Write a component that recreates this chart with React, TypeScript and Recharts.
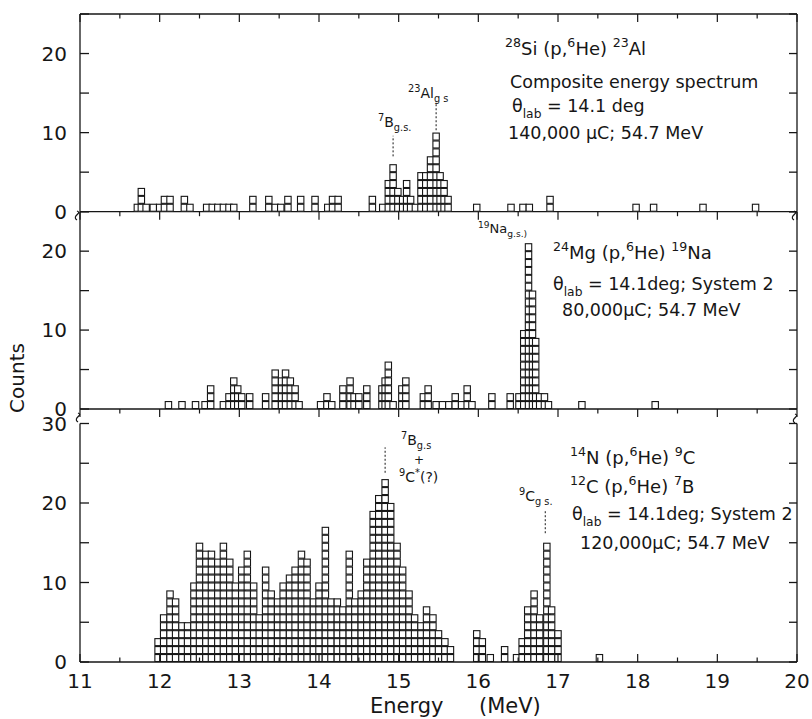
import { ReferenceLine, Scatter, ScatterChart, XAxis, YAxis } from 'recharts'

const INK = '#161616'
const FONT = '"DejaVu Sans", Verdana, sans-serif'

// one square = one count; energies (MeV)
const siEnergy = [
  11.72, 11.77, 11.83, 11.92, 12.0, 12.06, 12.13, 12.31, 12.38, 12.59, 12.66, 12.73, 12.8,
  12.87, 12.93, 13.17, 13.37, 13.45, 13.52, 13.61, 13.77, 13.95, 14.11, 14.17, 14.24, 14.67,
  14.8, 14.87, 14.93, 14.99, 15.05, 15.1, 15.15, 15.21, 15.28, 15.34, 15.4, 15.47, 15.52,
  15.57, 15.62, 15.98, 16.41, 16.56, 16.64, 16.9, 17.98, 18.2, 18.82, 19.48,
]
const siCounts = [
  1, 3, 1, 1, 1, 2, 2, 2, 1, 1, 1, 1, 1, 1, 1, 2, 2, 1, 1, 2, 2, 2, 1, 2, 2, 2, 1, 4, 6, 3, 2,
  4, 2, 1, 5, 5, 7, 10, 5, 4, 2, 1, 1, 1, 1, 2, 1, 1, 1, 1,
]

const mgEnergy = [
  12.11, 12.28, 12.45, 12.57, 12.64, 12.8, 12.87, 12.93, 12.98, 13.03, 13.13, 13.33, 13.45,
  13.53, 13.58, 13.64, 13.7, 13.75, 14.02, 14.1, 14.16, 14.3, 14.39, 14.44, 14.5, 14.6, 14.79,
  14.83, 14.87, 14.93, 15.04, 15.09, 15.31, 15.37, 15.47, 15.55, 15.63, 15.71, 15.79, 15.86,
  15.92, 16.17, 16.4, 16.51, 16.57, 16.63, 16.68, 16.72, 16.77, 16.83, 16.88, 17.3, 18.22,
]
const mgCounts = [
  1, 1, 1, 1, 3, 1, 2, 4, 3, 2, 2, 2, 5, 4, 5, 4, 3, 1, 1, 2, 1, 3, 4, 2, 2, 3, 3, 4, 6, 1, 3,
  4, 2, 3, 1, 1, 1, 2, 1, 3, 1, 2, 2, 2, 10, 21, 15, 9, 2, 2, 1, 1, 1,
]

const cnEnergy = [
  11.98, 12.05, 12.13, 12.2, 12.28, 12.35, 12.43, 12.5, 12.58, 12.65, 12.73, 12.8, 12.88,
  12.95, 13.03, 13.1, 13.18, 13.25, 13.33, 13.4, 13.48, 13.55, 13.63, 13.7, 13.78, 13.85,
  13.93, 14.0, 14.08, 14.15, 14.23, 14.3, 14.38, 14.45, 14.53, 14.6, 14.68, 14.75, 14.83,
  14.9, 14.98, 15.05, 15.13, 15.2, 15.28, 15.35, 15.43, 15.5, 15.58, 15.65, 15.98, 16.05,
  16.15, 16.33, 16.48, 16.55, 16.62, 16.7, 16.77, 16.86, 16.92, 17.0, 17.52,
]
const cnCounts = [
  3, 6, 9, 8, 5, 5, 10, 15, 14, 14, 13, 15, 13, 10, 12, 14, 10, 6, 12, 9, 8, 10, 11, 12, 14,
  13, 8, 10, 17, 8, 8, 7, 14, 8, 9, 13, 19, 21, 23, 20, 15, 12, 9, 6, 5, 7, 6, 4, 3, 2, 4, 3,
  1, 2, 1, 3, 7, 9, 6, 15, 7, 4, 1,
]

const energyTicks = [
  11, 11.5, 12, 12.5, 13, 13.5, 14, 14.5, 15, 15.5, 16, 16.5, 17, 17.5, 18, 18.5, 19, 19.5, 20,
]
const countTicks25 = [0, 5, 10, 15, 20, 25]
const countTicks30 = [0, 5, 10, 15, 20, 25, 30]

type Seg = [string, 'n' | 'sup' | 'sub']
type Note = { x: number; y: number; size: number; segs: Seg[] }
type Marker = { e: number; from: number; to: number }

const siMarkers: Marker[] = [
  { e: 14.93, from: 7, to: 9.6 },
  { e: 15.47, from: 10.3, to: 14 },
]
const cnMarkers: Marker[] = [
  { e: 14.83, from: 23.8, to: 27 },
  { e: 16.84, from: 16.2, to: 19 },
]

const notes: Note[] = [
  { x: 505, y: 55, size: 18, segs: [['28', 'sup'], ['Si (p,', 'n'], ['6', 'sup'], ['He) ', 'n'], ['23', 'sup'], ['Al', 'n']] },
  { x: 510, y: 88, size: 17.5, segs: [['Composite energy spectrum', 'n']] },
  { x: 512, y: 112, size: 17.5, segs: [['θ', 'n'], ['lab', 'sub'], [' = 14.1 deg', 'n']] },
  { x: 508, y: 139, size: 17.5, segs: [['140,000 μC; 54.7 MeV', 'n']] },
  { x: 378, y: 127, size: 14, segs: [['7', 'sup'], ['B', 'n'], ['g.s.', 'sub']] },
  { x: 408, y: 98, size: 14, segs: [['23', 'sup'], ['Al', 'n'], ['g s', 'sub']] },

  { x: 553, y: 259, size: 18, segs: [['24', 'sup'], ['Mg (p,', 'n'], ['6', 'sup'], ['He) ', 'n'], ['19', 'sup'], ['Na', 'n']] },
  { x: 553, y: 290, size: 17.5, segs: [['θ', 'n'], ['lab', 'sub'], [' = 14.1deg; System 2', 'n']] },
  { x: 562, y: 316, size: 17.5, segs: [['80,000μC; 54.7 MeV', 'n']] },
  { x: 478, y: 233, size: 13, segs: [['19', 'sup'], ['Na', 'n'], ['g.s.)', 'sub']] },

  { x: 570, y: 464, size: 18, segs: [['14', 'sup'], ['N (p,', 'n'], ['6', 'sup'], ['He) ', 'n'], ['9', 'sup'], ['C', 'n']] },
  { x: 570, y: 493, size: 18, segs: [['12', 'sup'], ['C (p,', 'n'], ['6', 'sup'], ['He) ', 'n'], ['7', 'sup'], ['B', 'n']] },
  { x: 572, y: 520, size: 17.5, segs: [['θ', 'n'], ['lab', 'sub'], [' = 14.1deg; System 2', 'n']] },
  { x: 580, y: 549, size: 17.5, segs: [['120,000μC; 54.7 MeV', 'n']] },
  { x: 401, y: 445, size: 14, segs: [['7', 'sup'], ['B', 'n'], ['g.s', 'sub']] },
  { x: 414, y: 464, size: 12, segs: [['+', 'n']] },
  { x: 399, y: 482, size: 14, segs: [['9', 'sup'], ['C', 'n'], ['*', 'sup'], ['(?)', 'n']] },
  { x: 519, y: 501, size: 14, segs: [['9', 'sup'], ['C', 'n'], ['g s.', 'sub']] },
]

// axis break marks where the panels meet
const breakMarks = [
  [80, 216],
  [797, 216],
  [81, 418],
  [798, 419],
]

function toSquares(energy: number[], counts: number[]) {
  const squares: { e: number; n: number }[] = []
  energy.forEach((e, i) => {
    for (let k = 0; k < counts[i]; k++) squares.push({ e, n: k + 0.5 })
  })
  return squares
}

function CountSquare(props: any) {
  const { cx, cy } = props
  if (cx == null || cy == null) return <g />
  return (
    <rect
      x={cx - 3.2}
      y={cy - 3.5}
      width={6.4}
      height={7}
      fill="#ffffff"
      stroke={INK}
      strokeWidth={1.1}
    />
  )
}

// tick line (long on whole MeV, short on half) plus optional label
function energyTick(dir: number, labels: boolean) {
  return function EnergyTick(props: any) {
    const { x, y, payload } = props
    const major = Number.isInteger(payload.value)
    return (
      <g>
        <line
          x1={x}
          x2={x}
          y1={y}
          y2={y + dir * (major ? 8 : 4.5)}
          stroke={INK}
          strokeWidth={1.2}
        />
        {labels && major ? (
          <text x={x} y={y + 26} textAnchor="middle" fontSize={20} fontFamily={FONT} fill={INK}>
            {payload.value}
          </text>
        ) : null}
      </g>
    )
  }
}

function RichText({ x, y, size, segs }: Note) {
  let shift = 0
  return (
    <text x={x} y={y} fontSize={size} fontFamily={FONT} fill={INK}>
      {segs.map(([t, kind], i) => {
        const target = kind === 'sup' ? -0.42 * size : kind === 'sub' ? 0.32 * size : 0
        const dy = target - shift
        shift = target
        return (
          <tspan key={i} dy={dy} fontSize={kind === 'n' ? size : size * 0.7}>
            {t}
          </tspan>
        )
      })}
    </text>
  )
}

function SpectrumPanel({
  top,
  height,
  plotTop,
  plotBottom,
  maxCount,
  yTicks,
  energy,
  counts,
  markers = [],
  topBorder = false,
  inwardBottom = false,
  energyLabels = false,
}: {
  top: number
  height: number
  plotTop: number
  plotBottom: number
  maxCount: number
  yTicks: number[]
  energy: number[]
  counts: number[]
  markers?: Marker[]
  topBorder?: boolean
  inwardBottom?: boolean
  energyLabels?: boolean
}) {
  const data = toSquares(energy, counts)
  const line = { stroke: INK, strokeWidth: 1.3 }
  const tickFont = { fontSize: 20, fill: INK, fontFamily: FONT }

  return (
    <div style={{ position: 'absolute', left: 0, top }}>
      <ScatterChart
        width={812}
        height={height}
        margin={{
          top: plotTop - top - (topBorder ? 1 : 0),
          right: 14,
          bottom: top + height - plotBottom - 1,
          left: 0,
        }}
      >
        {topBorder ? (
          <XAxis
            xAxisId="top"
            orientation="top"
            type="number"
            dataKey="e"
            domain={[11, 20]}
            allowDataOverflow
            ticks={energyTicks}
            interval={0}
            height={1}
            tickSize={0}
            tickMargin={0}
            tick={energyTick(1, false)}
            axisLine={line}
            tickLine={false}
          />
        ) : null}
        <XAxis
          xAxisId="e"
          type="number"
          dataKey="e"
          domain={[11, 20]}
          allowDataOverflow
          ticks={energyTicks}
          interval={0}
          height={1}
          tickSize={0}
          tickMargin={0}
          tick={energyTick(inwardBottom ? -1 : 1, energyLabels)}
          axisLine={line}
          tickLine={false}
        />
        <YAxis
          yAxisId="n"
          type="number"
          dataKey="n"
          domain={[0, maxCount]}
          allowDataOverflow
          ticks={yTicks}
          interval={0}
          width={80}
          tickSize={-9}
          tickMargin={22}
          tickFormatter={(v) => (v % 10 === 0 ? String(v) : '')}
          tick={tickFont}
          axisLine={line}
          tickLine={line}
        />
        <YAxis
          yAxisId="right"
          orientation="right"
          type="number"
          dataKey="n"
          domain={[0, maxCount]}
          allowDataOverflow
          ticks={yTicks}
          interval={0}
          width={1}
          tickSize={-8}
          tickFormatter={() => ''}
          axisLine={line}
          tickLine={line}
        />
        {markers.map((m) => (
          <ReferenceLine
            key={m.e}
            xAxisId="e"
            yAxisId="n"
            segment={[
              { x: m.e, y: m.from },
              { x: m.e, y: m.to },
            ]}
            stroke={INK}
            strokeWidth={1}
            strokeDasharray="2 2"
          />
        ))}
        <Scatter
          xAxisId="e"
          yAxisId="n"
          data={data}
          shape={CountSquare}
          isAnimationActive={false}
        />
      </ScatterChart>
    </div>
  )
}

export default function App() {
  return (
    <div
      style={{
        position: 'absolute',
        left: 0,
        top: 0,
        width: 812,
        height: 719,
        background: '#ffffff',
        overflow: 'hidden',
      }}
    >
      <SpectrumPanel
        top={0}
        height={240}
        plotTop={14}
        plotBottom={211.7}
        maxCount={25}
        yTicks={countTicks25}
        energy={siEnergy}
        counts={siCounts}
        markers={siMarkers}
        topBorder
      />
      <SpectrumPanel
        top={200}
        height={230}
        plotTop={211.7}
        plotBottom={409}
        maxCount={25}
        yTicks={countTicks25}
        energy={mgEnergy}
        counts={mgCounts}
      />
      <SpectrumPanel
        top={410}
        height={309}
        plotTop={423.5}
        plotBottom={662}
        maxCount={30}
        yTicks={countTicks30}
        energy={cnEnergy}
        counts={cnCounts}
        markers={cnMarkers}
        inwardBottom
        energyLabels
      />
      <svg
        width={812}
        height={719}
        style={{ position: 'absolute', left: 0, top: 0, pointerEvents: 'none' }}
      >
        {notes.map((n, i) => (
          <RichText key={i} {...n} />
        ))}
        {breakMarks.map(([x, y], i) => (
          <path
            key={i}
            d={`M${x - 3},${y - 5} c6,2 -6,5 0,9`}
            fill="none"
            stroke={INK}
            strokeWidth={1.2}
          />
        ))}
        <text
          x={24}
          y={378}
          transform="rotate(-90 24 378)"
          textAnchor="middle"
          fontSize={20}
          fontFamily={FONT}
          fill={INK}
        >
          Counts
        </text>
        <text x={370} y={713} fontSize={21} fontFamily={FONT} fill={INK}>
          Energy
        </text>
        <text x={479} y={713} fontSize={21} fontFamily={FONT} fill={INK}>
          (MeV)
        </text>
      </svg>
    </div>
  )
}
